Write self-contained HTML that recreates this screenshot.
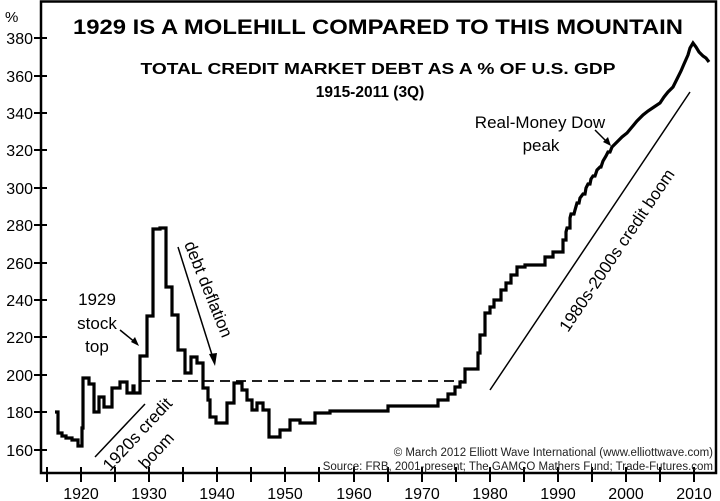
<!DOCTYPE html>
<html><head><meta charset="utf-8"><style>
html,body{margin:0;padding:0;background:#fff;}
svg{display:block;font-family:"Liberation Sans",Arial,sans-serif;}
</style></head><body>
<svg width="720" height="501" viewBox="0 0 720 501" xmlns="http://www.w3.org/2000/svg">
<rect x="0" y="0" width="720" height="501" fill="#fff"/>
<path d="M41,473 V1.5 H716 V473 Z" fill="none" stroke="#000" stroke-width="2.5"/>
<g stroke="#000" stroke-width="2">
<line x1="34" y1="38" x2="47" y2="38"/><line x1="34" y1="76" x2="47" y2="76"/>
<line x1="34" y1="113" x2="47" y2="113"/><line x1="34" y1="150" x2="47" y2="150"/>
<line x1="34" y1="188" x2="47" y2="188"/><line x1="34" y1="225" x2="47" y2="225"/>
<line x1="34" y1="263" x2="47" y2="263"/><line x1="34" y1="300" x2="47" y2="300"/>
<line x1="34" y1="337" x2="47" y2="337"/><line x1="34" y1="375" x2="47" y2="375"/>
<line x1="34" y1="412" x2="47" y2="412"/><line x1="34" y1="450" x2="47" y2="450"/>
</g>
<g font-size="16" text-anchor="end" fill="#000">
<text x="33" y="44">380</text><text x="33" y="82">360</text><text x="33" y="119">340</text>
<text x="33" y="156">320</text><text x="33" y="194">300</text><text x="33" y="231">280</text>
<text x="33" y="269">260</text><text x="33" y="306">240</text><text x="33" y="343">220</text>
<text x="33" y="381">200</text><text x="33" y="418">180</text><text x="33" y="456">160</text>
</g>
<text x="5" y="22" font-size="15">%</text>
<g stroke="#000" stroke-width="2">
<line x1="47" y1="467" x2="47" y2="482"/><line x1="81" y1="467" x2="81" y2="482"/>
<line x1="115" y1="467" x2="115" y2="482"/><line x1="149" y1="467" x2="149" y2="482"/>
<line x1="183" y1="467" x2="183" y2="482"/><line x1="217" y1="467" x2="217" y2="482"/>
<line x1="251" y1="467" x2="251" y2="482"/><line x1="285" y1="467" x2="285" y2="482"/>
<line x1="319" y1="467" x2="319" y2="482"/><line x1="354" y1="467" x2="354" y2="482"/>
<line x1="388" y1="467" x2="388" y2="482"/><line x1="422" y1="467" x2="422" y2="482"/>
<line x1="456" y1="467" x2="456" y2="482"/><line x1="490" y1="467" x2="490" y2="482"/>
<line x1="524" y1="467" x2="524" y2="482"/><line x1="558" y1="467" x2="558" y2="482"/>
<line x1="592" y1="467" x2="592" y2="482"/><line x1="626" y1="467" x2="626" y2="482"/>
<line x1="660" y1="467" x2="660" y2="482"/><line x1="694" y1="467" x2="694" y2="482"/>
</g>
<g font-size="16" text-anchor="middle" fill="#000">
<text x="81" y="499">1920</text><text x="149" y="499">1930</text><text x="217" y="499">1940</text>
<text x="285" y="499">1950</text><text x="354" y="499">1960</text><text x="422" y="499">1970</text>
<text x="490" y="499">1980</text><text x="558" y="499">1990</text><text x="626" y="499">2000</text>
<text x="694" y="499">2010</text>
</g>
<text x="378" y="34" font-size="21" font-weight="bold" text-anchor="middle" textLength="610" lengthAdjust="spacingAndGlyphs">1929 IS A MOLEHILL COMPARED TO THIS MOUNTAIN</text>
<text x="378" y="74" font-size="15.5" font-weight="bold" text-anchor="middle" textLength="475" lengthAdjust="spacingAndGlyphs">TOTAL CREDIT MARKET DEBT AS A % OF U.S. GDP</text>
<text x="370" y="97" font-size="15.5" font-weight="bold" text-anchor="middle">1915-2011 (3Q)</text>
<text x="713" y="456" font-size="11.5" text-anchor="end" fill="#222">© March 2012 Elliott Wave International (www.elliottwave.com)</text>
<text x="713" y="470" font-size="11.5" text-anchor="end" fill="#222">Source: FRB, 2001-present; The GAMCO Mathers Fund; Trade-Futures.com</text>
<line x1="140" y1="381" x2="462" y2="381" stroke="#000" stroke-width="1.8" stroke-dasharray="10,6"/>
<path fill="none" stroke="#000" stroke-width="3.2" stroke-linejoin="miter" d="M55,412 H58 V433 H62 V436 H66 V438 H72 V440 H78 V446 H82 V428 H83 V378 H89 V384 H94 V412 H99 V397 H104 V407 H112 V388 H120 V382 H127 V393 H133 V386 H134 V393 H140 V356 H147 V316 H153 V229 H160 V228 H166 V287 H172 V315 H178 V350 H185 V373 H191 V357 H197 V363 H203 V388 H208 V400 H210 V417 H216 V423 H227 V403 H234 V383 H242 V390 H247 V400 H252 V410 H257 V403 H263 V410 H269 V437 H280 V430 H290 V420 H300 V423 H315 V413 H330 V411 H388 V406 H438 V400 H448 V394 H455 V387 H460 V382 H465 V369 H478 V353 H480 V335 H485 V313 H490 V307 H494 V300 H501 V290 H506 V283 H511 V275 H517 V267 H525 V265 H545 V257 H553 V252 H563 V240 H566 V232 L567,228 H570 V218 L571,214 H574 L575,210 L577,203 H579 L580,198 L583,194 H585 L586,188 L588,184 H590 L591,179 L593,176 H595 L597,170 L600,167 H601 L603,161 L606,156 L608,152 H610 L612,147 L614,145 L618,141 L622,137 L627,133 L632,127 L637,121 L643,115 L648,111 L654,107 L660,103 L664,97 L668,92 L673,87 L677,79 L681,71 L684,64 L688,55 L690,48 L693,43 L696,47 L699,52 L703,56 L706,58 L709,62"/>
<line x1="95" y1="457" x2="145" y2="404" stroke="#000" stroke-width="1.5"/>
<line x1="490" y1="390" x2="690" y2="92" stroke="#000" stroke-width="1.5"/>
<line x1="178" y1="247" x2="213" y2="358" stroke="#000" stroke-width="1.5"/>
<path d="M209,354 L215,366 L217,353 Z" fill="#000"/>
<line x1="120" y1="330" x2="136" y2="343" stroke="#000" stroke-width="1.5"/>
<path d="M131,342 L139,346 L135,337 Z" fill="#000"/>
<line x1="595" y1="130" x2="608" y2="143" stroke="#000" stroke-width="1.5"/>
<path d="M603,142 L611,146 L608,137 Z" fill="#000"/>
<g font-size="17" fill="#000">
<text x="97" y="305" text-anchor="middle">1929</text>
<text x="97" y="329" text-anchor="middle">stock</text>
<text x="97" y="352" text-anchor="middle">top</text>
<text x="540" y="128" text-anchor="middle">Real-Money Dow</text>
<text x="541" y="151" text-anchor="middle">peak</text>
<text transform="translate(110,472) rotate(-47)">1920s credit</text>
<text transform="translate(146,470) rotate(-47)">boom</text>
<text transform="translate(184,244) rotate(68)">debt deflation</text>
<text transform="translate(568,333) rotate(-56)">1980s-2000s credit boom</text>
</g>
</svg>
</body></html>
